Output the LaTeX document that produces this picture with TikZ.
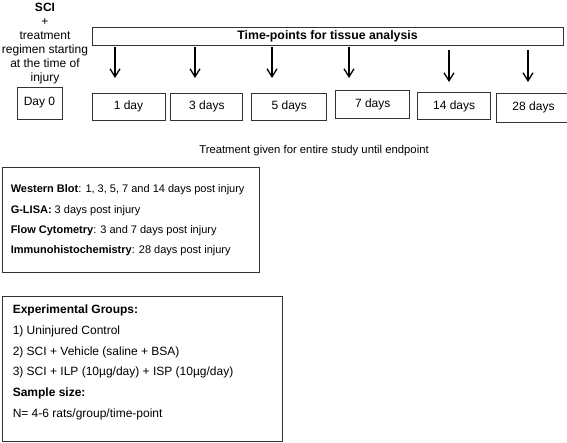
\documentclass[tikz,border=0pt]{standalone}
\usepackage{fontspec}
\setmainfont{Liberation Sans}
\usetikzlibrary{positioning,arrows.meta}
\tikzset{
  daybox/.style  = {draw=black!80, line width=0.9pt, minimum height=27pt,
                    minimum width=73pt, inner sep=0pt, font=\fontsize{12}{14}\selectfont},
  barbox/.style  = {draw=black!80, line width=0.9pt, minimum height=18pt,
                    minimum width=471pt, inner sep=0pt, font=\bfseries\fontsize{12.3}{14}\selectfont},
  listbox/.style = {draw=black!80, line width=0.9pt, inner sep=0pt},
  listtext/.style = {align=left, inner sep=0pt},
  arrow/.style   = {-{Straight Barb[length=8pt,width=10pt]}, line width=1.3pt},
}
\begin{document}
\begin{tikzpicture}[x=1pt, y=-1pt, node distance=5pt]
  \useasboundingbox (0,0) rectangle (567,442);

  \node[align=center, inner sep=0pt, font=\fontsize{12}{14}\selectfont] (sci) at (45,44)
    {\textbf{SCI}\\+\\treatment\\regimen starting\\at the time of\\injury};

  \node[barbox] (tpbar) at (327.5,36) {Time-points for tissue analysis};

  \node[daybox, minimum width=45pt, minimum height=32pt] (d0) at (39.5,103) {Day 0};
  \node[daybox] (d1) at (128.5,106.5) {1 day};
  \node[daybox, minimum width=72pt, right=5pt of d1] (d3) {3 days};
  \node[daybox, minimum width=75pt, right=8pt of d3] (d5) {5 days};
  \node[daybox, minimum width=74pt, minimum height=28pt, right=8pt of d5, yshift=2.5pt] (d7) {7 days};
  \node[daybox, right=7pt of d7, yshift=-2pt] (d14) {14 days};
  \node[daybox, minimum width=74pt, minimum height=29pt, right=5pt of d14, yshift=-1.5pt] (d28) {28 days};

  \coordinate (a1) at (115,78);
  \coordinate (a3) at (195,78);
  \coordinate (a5) at (272,78);
  \coordinate (a7) at (349,78);
  \coordinate (a14) at (449,82);
  \coordinate (a28) at (528,82);
  \draw[arrow, shorten <=2pt] (tpbar.south -| a1) -- (a1);
  \draw[arrow, shorten <=2pt] (tpbar.south -| a3) -- (a3);
  \draw[arrow, shorten <=2pt] (tpbar.south -| a5) -- (a5);
  \draw[arrow, shorten <=2pt] (tpbar.south -| a7) -- (a7);
  \draw[arrow, shorten <=5pt] (tpbar.south -| a14) -- (a14);
  \draw[arrow, shorten <=5pt] (tpbar.south -| a28) -- (a28);

  \node[inner sep=0pt, font=\fontsize{11.3}{13}\selectfont] (note) at (314,151)
    {Treatment given for entire study until endpoint};

  \node[listbox, minimum width=257pt, minimum height=105pt] (assays) at (130.5,219.5) {};
  \node[listtext, anchor=north west, font=\fontsize{11}{20.3}\selectfont] (assaytxt)
    at ([xshift=9pt, yshift=-18pt]assays.north west)
    {\textbf{Western Blot}: 1, 3, 5, 7 and 14 days post injury\\
     \textbf{G-LISA:} 3 days post injury\\
     \textbf{Flow Cytometry}: 3 and 7 days post injury\\
     \textbf{Immunohistochemistry}: 28 days post injury};

  \node[listbox, minimum width=280pt, minimum height=145pt] (groups) at (142,368.5) {};
  \node[listtext, anchor=north west, font=\fontsize{12}{20.8}\selectfont] (grouptxt)
    at ([xshift=11pt, yshift=-9pt]groups.north west)
    {\textbf{Experimental Groups:}\\
     1) Uninjured Control\\
     2) SCI + Vehicle (saline + BSA)\\
     3) SCI + ILP (10µg/day) + ISP (10µg/day)\\
     \textbf{Sample size:}\\
     N= 4-6 rats/group/time-point};
\end{tikzpicture}
\end{document}
